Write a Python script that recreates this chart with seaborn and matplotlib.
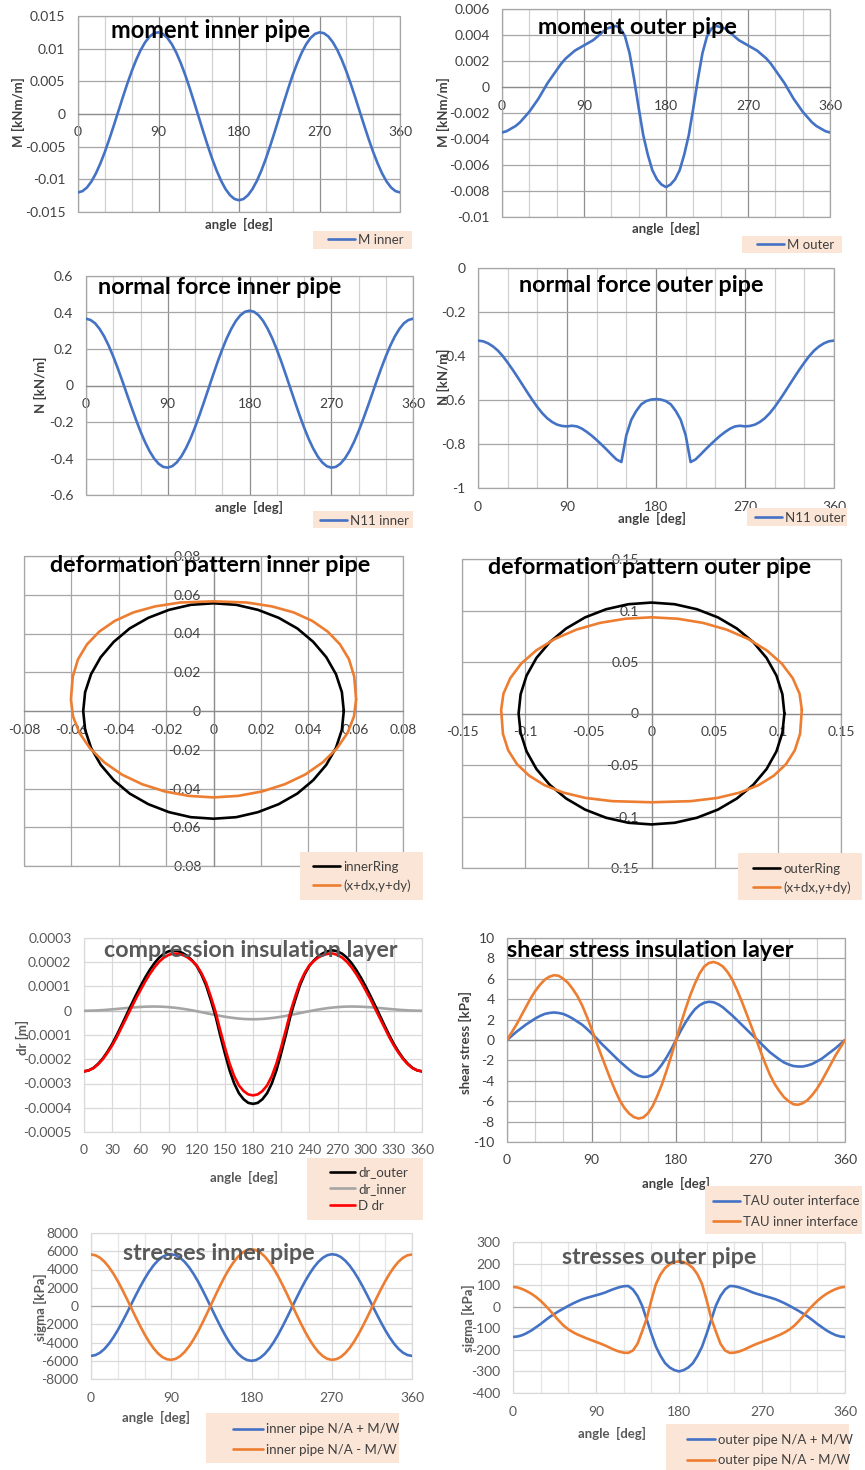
import matplotlib
matplotlib.use("Agg")
import matplotlib.pyplot as plt
import seaborn as sns
from matplotlib.ticker import MultipleLocator, FuncFormatter, NullLocator
from matplotlib.lines import Line2D
from matplotlib.patches import Rectangle

# ------------------------------------------------------------------ data
angle = [0, 5, 10, 15, 20, 25, 30, 35, 40, 45, 50, 55, 60, 65, 70, 75, 80, 85, 90,
         95, 100, 105, 110, 115, 120, 125, 130, 135, 140, 145, 150, 155, 160, 165, 170, 175, 180,
         185, 190, 195, 200, 205, 210, 215, 220, 225, 230, 235, 240, 245, 250, 255, 260, 265, 270,
         275, 280, 285, 290, 295, 300, 305, 310, 315, 320, 325, 330, 335, 340, 345, 350, 355, 360]

m_inner = [-0.0120, -0.01181, -0.01125, -0.01034, -0.00910, -0.00757, -0.00581, -0.00385, -0.00177,
           0.00037, 0.00252, 0.00459, 0.00653, 0.00827, 0.00977, 0.01097, 0.01185, 0.01236, 0.01250,
           0.01226, 0.01164, 0.01066, 0.00936, 0.00776, 0.00593, 0.00390, 0.00174, -0.00047,
           -0.00269, -0.00483, -0.00685, -0.00866, -0.01023, -0.01150, -0.01243, -0.01301, -0.0132,
           -0.01301, -0.01243, -0.01150, -0.01023, -0.00866, -0.00685, -0.00483, -0.00269, -0.00047,
           0.00174, 0.00390, 0.00593, 0.00776, 0.00936, 0.01066, 0.01164, 0.01226, 0.01250,
           0.01236, 0.01185, 0.01097, 0.00977, 0.00827, 0.00653, 0.00459, 0.00252, 0.00037,
           -0.00177, -0.00385, -0.00581, -0.00757, -0.00910, -0.01034, -0.01125, -0.01181, -0.0120]

m_outer = [-0.0035, -0.0034, -0.0032, -0.0030, -0.0027, -0.0023, -0.0019, -0.0014, -0.0009, -0.0003,
           0.0003, 0.0008, 0.0013, 0.0018, 0.0022, 0.0025, 0.0028, 0.0030, 0.0032, 0.0034,
           0.0036, 0.0039, 0.0042, 0.0045, 0.0046, 0.0047, 0.0045, 0.0039, 0.0026, 0.0006,
           -0.0016, -0.0037, -0.0052, -0.0064, -0.0071, -0.0075, -0.0077,
           -0.0075, -0.0071, -0.0064, -0.0052, -0.0037, -0.0016, 0.0006, 0.0026, 0.0039, 0.0045,
           0.0047, 0.0046, 0.0045, 0.0042, 0.0039, 0.0036, 0.0034, 0.0032, 0.0030, 0.0028,
           0.0025, 0.0022, 0.0018, 0.0013, 0.0008, 0.0003, -0.0003, -0.0009, -0.0014, -0.0019,
           -0.0023, -0.0027, -0.0030, -0.0032, -0.0034, -0.0035]

n_inner = [0.366, 0.359, 0.341, 0.310, 0.269, 0.218, 0.159, 0.094, 0.025, -0.047, -0.118, -0.187,
           -0.252, -0.310, -0.360, -0.400, -0.429, -0.446, -0.450, -0.442, -0.421, -0.388, -0.344,
           -0.291, -0.229, -0.161, -0.089, -0.015, 0.059, 0.131, 0.198, 0.259, 0.311, 0.354, 0.385,
           0.404, 0.410,
           0.404, 0.385, 0.354, 0.311, 0.259, 0.198, 0.131, 0.059, -0.015, -0.089, -0.161, -0.229,
           -0.291, -0.344, -0.388, -0.421, -0.442, -0.450, -0.446, -0.429, -0.400, -0.360, -0.310,
           -0.252, -0.187, -0.118, -0.047, 0.025, 0.094, 0.159, 0.218, 0.269, 0.310, 0.341, 0.359,
           0.366]

n_outer = [-0.330, -0.333, -0.342, -0.356, -0.375, -0.400, -0.430, -0.462, -0.496, -0.531,
           -0.566, -0.600, -0.632, -0.660, -0.683, -0.700, -0.712, -0.718, -0.720, -0.717,
           -0.720, -0.730, -0.745, -0.762, -0.782, -0.803, -0.825, -0.848, -0.870, -0.882,
           -0.760, -0.690, -0.650, -0.620, -0.605, -0.598, -0.596,
           -0.598, -0.605, -0.620, -0.650, -0.690, -0.760, -0.882, -0.870, -0.848, -0.825,
           -0.803, -0.782, -0.762, -0.745, -0.730, -0.720, -0.717, -0.720, -0.718, -0.712,
           -0.700, -0.683, -0.660, -0.632, -0.600, -0.566, -0.531, -0.496, -0.462, -0.430,
           -0.400, -0.375, -0.356, -0.342, -0.333, -0.330]

inner_ring_x = [0.0550, 0.0542, 0.0517, 0.0476, 0.0421, 0.0354, 0.0275, 0.0188, 0.0096, 0.0000,
                -0.0096, -0.0188, -0.0275, -0.0354, -0.0421, -0.0476, -0.0517, -0.0542, -0.0550,
                -0.0542, -0.0517, -0.0476, -0.0421, -0.0354, -0.0275, -0.0188, -0.0096, 0.0000,
                0.0096, 0.0188, 0.0275, 0.0354, 0.0421, 0.0476, 0.0517, 0.0542, 0.0550]
inner_ring_y = [0.0000, 0.0097, 0.0190, 0.0278, 0.0357, 0.0426, 0.0481, 0.0522, 0.0548, 0.0556,
                0.0548, 0.0522, 0.0481, 0.0426, 0.0357, 0.0278, 0.0190, 0.0097, 0.0000,
                -0.0097, -0.0190, -0.0278, -0.0357, -0.0426, -0.0481, -0.0522, -0.0548, -0.0556,
                -0.0548, -0.0522, -0.0481, -0.0426, -0.0357, -0.0278, -0.0190, -0.0097, 0.0000]
inner_def_x = [0.0602, 0.0594, 0.0572, 0.0534, 0.0482, 0.0417, 0.0338, 0.0246, 0.0140, 0.0000,
               -0.0140, -0.0246, -0.0338, -0.0417, -0.0482, -0.0534, -0.0572, -0.0594, -0.0602,
               -0.0593, -0.0566, -0.0521, -0.0461, -0.0387, -0.0301, -0.0206, -0.0105, 0.0000,
               0.0105, 0.0206, 0.0301, 0.0387, 0.0461, 0.0521, 0.0566, 0.0593, 0.0602]
inner_def_y = [0.0060, 0.0178, 0.0267, 0.0344, 0.0410, 0.0465, 0.0509, 0.0540, 0.0560, 0.0566,
               0.0560, 0.0540, 0.0509, 0.0465, 0.0410, 0.0344, 0.0267, 0.0178, 0.0060,
               -0.0028, -0.0113, -0.0193, -0.0265, -0.0328, -0.0378, -0.0415, -0.0438, -0.0446,
               -0.0438, -0.0415, -0.0378, -0.0328, -0.0265, -0.0193, -0.0113, -0.0028, 0.0060]

outer_ring_x = [0.1052, 0.1036, 0.0989, 0.0911, 0.0806, 0.0676, 0.0526, 0.0360, 0.0183, 0.0000,
                -0.0183, -0.0360, -0.0526, -0.0676, -0.0806, -0.0911, -0.0989, -0.1036, -0.1052,
                -0.1036, -0.0989, -0.0911, -0.0806, -0.0676, -0.0526, -0.0360, -0.0183, 0.0000,
                0.0183, 0.0360, 0.0526, 0.0676, 0.0806, 0.0911, 0.0989, 0.1036, 0.1052]
outer_ring_y = [0.0000, 0.0187, 0.0368, 0.0539, 0.0692, 0.0825, 0.0933, 0.1012, 0.1061, 0.1077,
                0.1061, 0.1012, 0.0933, 0.0825, 0.0692, 0.0539, 0.0368, 0.0187, 0.0000,
                -0.0187, -0.0368, -0.0539, -0.0692, -0.0825, -0.0933, -0.1012, -0.1061, -0.1077,
                -0.1061, -0.1012, -0.0933, -0.0825, -0.0692, -0.0539, -0.0368, -0.0187, 0.0000]
outer_def_x = [0.1190, 0.1172, 0.1118, 0.1031, 0.0912, 0.0765, 0.0595, 0.0407, 0.0207, 0.0000,
               -0.0207, -0.0407, -0.0595, -0.0765, -0.0912, -0.1031, -0.1118, -0.1172, -0.1190,
               -0.1176, -0.1134, -0.1065, -0.0969, -0.0847, -0.0698, -0.0521, -0.0310, 0.0000,
               0.0310, 0.0521, 0.0698, 0.0847, 0.0969, 0.1065, 0.1134, 0.1176, 0.1190]
outer_def_y = [0.0036, 0.0192, 0.0343, 0.0485, 0.0613, 0.0724, 0.0814, 0.0880, 0.0920, 0.0934,
               0.0920, 0.0880, 0.0814, 0.0724, 0.0613, 0.0485, 0.0343, 0.0192, 0.0036,
               -0.0198, -0.0358, -0.0491, -0.0603, -0.0696, -0.0768, -0.0820, -0.0851, -0.0862,
               -0.0851, -0.0820, -0.0768, -0.0696, -0.0603, -0.0491, -0.0358, -0.0198, 0.0036]

dr_outer = [-250e-6, -246e-6, -236e-6, -219e-6, -197e-6, -169e-6, -137e-6, -100e-6, -60e-6,
            -19e-6, 22e-6, 62e-6, 100e-6, 136e-6, 168e-6, 196e-6, 219e-6, 235e-6, 245e-6,
            249e-6, 246e-6, 238e-6, 226e-6, 208e-6, 185e-6, 150e-6, 105e-6, 45e-6, -20e-6,
            -100e-6, -175e-6, -245e-6, -300e-6, -340e-6, -365e-6, -380e-6, -384e-6,
            -380e-6, -365e-6, -340e-6, -300e-6, -245e-6, -175e-6, -100e-6, -20e-6, 45e-6,
            105e-6, 150e-6, 185e-6, 208e-6, 226e-6, 238e-6, 246e-6, 249e-6, 245e-6, 235e-6,
            219e-6, 196e-6, 168e-6, 136e-6, 100e-6, 62e-6, 22e-6, -19e-6, -60e-6, -100e-6,
            -137e-6, -169e-6, -197e-6, -219e-6, -236e-6, -246e-6, -250e-6]
dr_inner = [0.0, 0.2e-6, 0.7e-6, 1.6e-6, 2.7e-6, 4.2e-6, 5.8e-6, 7.5e-6, 9.3e-6, 11.1e-6,
            12.8e-6, 14.4e-6, 15.6e-6, 16.6e-6, 17.2e-6, 17.4e-6, 17.1e-6, 16.3e-6, 15.0e-6,
            13.2e-6, 11.0e-6, 8.3e-6, 5.2e-6, 1.8e-6, -1.9e-6, -5.7e-6, -9.7e-6, -13.6e-6,
            -17.5e-6, -21.2e-6, -24.5e-6, -27.6e-6, -30.1e-6, -32.2e-6, -33.8e-6, -34.7e-6,
            -35.0e-6,
            -34.7e-6, -33.8e-6, -32.2e-6, -30.1e-6, -27.6e-6, -24.5e-6, -21.2e-6, -17.5e-6,
            -13.6e-6, -9.7e-6, -5.7e-6, -1.9e-6, 1.8e-6, 5.2e-6, 8.3e-6, 11.0e-6, 13.2e-6,
            15.0e-6, 16.3e-6, 17.1e-6, 17.4e-6, 17.2e-6, 16.6e-6, 15.6e-6, 14.4e-6, 12.8e-6,
            11.1e-6, 9.3e-6, 7.5e-6, 5.8e-6, 4.2e-6, 2.7e-6, 1.6e-6, 0.7e-6, 0.2e-6, 0.0]
d_dr = [-250e-6, -246e-6, -237e-6, -221e-6, -200e-6, -173e-6, -143e-6, -108e-6, -69e-6, -30e-6,
        9e-6, 48e-6, 84e-6, 119e-6, 151e-6, 179e-6, 202e-6, 219e-6, 230e-6, 236e-6, 235e-6,
        230e-6, 221e-6, 206e-6, 187e-6, 156e-6, 115e-6, 59e-6, -3e-6, -79e-6, -151e-6,
        -217e-6, -270e-6, -308e-6, -331e-6, -345e-6, -349e-6,
        -345e-6, -331e-6, -308e-6, -270e-6, -217e-6, -151e-6, -79e-6, -3e-6, 59e-6, 115e-6,
        156e-6, 187e-6, 206e-6, 221e-6, 230e-6, 235e-6, 236e-6, 230e-6, 219e-6, 202e-6,
        179e-6, 151e-6, 119e-6, 84e-6, 48e-6, 9e-6, -30e-6, -69e-6, -108e-6, -143e-6,
        -173e-6, -200e-6, -221e-6, -237e-6, -246e-6, -250e-6]

tau_outer = [0, 0.4, 0.8, 1.15, 1.5, 1.8, 2.1, 2.35, 2.55, 2.65, 2.7, 2.65, 2.55, 2.35, 2.1, 1.8,
             1.5, 1.1, 0.65, 0.2, -0.3, -0.75, -1.2, -1.65, -2.1, -2.5, -2.9, -3.25, -3.5, -3.62,
             -3.6, -3.4, -3.0, -2.4, -1.7, -0.9, 0,
             0.9, 1.7, 2.4, 3.0, 3.4, 3.65, 3.75, 3.7, 3.5, 3.2, 2.8, 2.4, 1.95, 1.5, 1.05, 0.6,
             0.15, -0.3, -0.75, -1.2, -1.55, -1.9, -2.2, -2.4, -2.55, -2.6, -2.6, -2.5, -2.35,
             -2.1, -1.85, -1.5, -1.15, -0.8, -0.4, 0]
tau_inner = [0, 0.75, 1.5, 2.35, 3.2, 4.05, 4.8, 5.4, 5.9, 6.2, 6.35, 6.3, 6.0, 5.6, 5.0, 4.3,
             3.4, 2.3, 1.1, -0.15, -1.4, -2.6, -3.8, -4.9, -5.9, -6.65, -7.2, -7.55, -7.7, -7.6,
             -7.2, -6.5, -5.5, -4.35, -3.0, -1.55, 0,
             1.55, 3.0, 4.35, 5.5, 6.5, 7.2, 7.55, 7.65, 7.5, 7.2, 6.65, 5.9, 4.9, 3.8, 2.6, 1.4,
             0.15, -1.1, -2.3, -3.4, -4.3, -5.0, -5.6, -6.0, -6.3, -6.35, -6.2, -5.9, -5.4, -4.8,
             -4.05, -3.2, -2.35, -1.5, -0.75, 0]

sig_in_plus = [-5465, -5378, -5124, -4710, -4146, -3450, -2650, -1759, -814, 159, 1137, 2078,
               2960, 3752, 4434, 4979, 5380, 5611, 5675, 5566, 5284, 4839, 4248, 3520, 2689, 1766,
               784, -222, -1230, -2204, -3122, -3945, -4658, -5236, -5659, -5923, -6009,
               -5923, -5659, -5236, -4658, -3945, -3122, -2204, -1230, -222, 784, 1766, 2689,
               3520, 4248, 4839, 5284, 5566, 5675, 5611, 5380, 4979, 4434, 3752, 2960, 2078, 1137,
               159, -814, -1759, -2650, -3450, -4146, -4710, -5124, -5378, -5465]
sig_in_minus = [5647, 5558, 5294, 4865, 4280, 3559, 2730, 1806, 826, -183, -1197, -2172, -3086,
                -3906, -4614, -5179, -5594, -5834, -5901, -5787, -5494, -5033, -4420, -3666,
                -2803, -1846, -828, 214, 1260, 2269, 3222, 4074, 4814, 5413, 5851, 6125, 6215,
                6125, 5851, 5413, 4814, 4074, 3222, 2269, 1260, 214, -828, -1846, -2803, -3666,
                -4420, -5033, -5494, -5787, -5901, -5834, -5594, -5179, -4614, -3906, -3086,
                -2172, -1197, -183, 826, 1806, 2730, 3559, 4280, 4865, 5294, 5558, 5647]

sig_out_plus = [-140, -138, -132, -122, -110, -95, -80, -63, -47, -33, -20, -8, 4, 15, 25, 34, 41,
                47, 53, 59, 66, 75, 83, 90, 95, 96, 80, 50, 5, -60, -125, -185, -228, -262, -282,
                -294, -300,
                -294, -282, -262, -228, -185, -125, -60, 5, 50, 80, 96, 95, 90, 83, 75, 66, 59, 53,
                47, 41, 34, 25, 15, 4, -8, -20, -33, -47, -63, -80, -95, -110, -122, -132, -138, -140]
sig_out_minus = [92, 89, 82, 72, 60, 45, 27, 6, -17, -42, -66, -88, -105, -118, -129, -138, -147,
                 -155, -163, -171, -180, -190, -200, -208, -213, -214, -203, -172, -115, -55, 30,
                 105, 150, 180, 197, 207, 210,
                 207, 197, 180, 150, 105, 30, -55, -115, -172, -203, -214, -213, -208, -200, -190,
                 -180, -171, -163, -155, -147, -138, -129, -118, -105, -88, -66, -42, -17, 6, 27,
                 45, 60, 72, 82, 89, 92]

# ------------------------------------------------------------------ style
sns.set_theme(style="white")
plt.rcParams['font.family'] = ['Lato', 'DejaVu Sans']

BLUE = '#4472C4'
ORANGE = '#ED7D31'
GRAY_LINE = '#A5A5A5'
RED = '#FF0000'
PEACH = '#FBE5D6'
DARK_T = '#404040'
GRAY_T = '#595959'
LW = 1.9

W, H = 865, 1470
fig = plt.figure(figsize=(W / 100, H / 100), dpi=100)
fig.patch.set_facecolor('white')


def fx(x):
    return x / W


def fy(y):
    return 1 - y / H


def gfmt(v, p):
    if abs(v) < 1e-12:
        return '0'
    return '%g' % round(v, 10)


def make_ax(rect, xlim, ylim, xmaj, ymaj, xminor=None, spine0=False, center=False,
            light=False, tcolor=DARK_T):
    x0, y0, x1, y1 = rect
    ax = fig.add_axes([fx(x0), fy(y1), (x1 - x0) / W, (y1 - y0) / H])
    ax.set_xlim(*xlim)
    ax.set_ylim(*ylim)
    ax.xaxis.set_major_locator(MultipleLocator(xmaj))
    ax.yaxis.set_major_locator(MultipleLocator(ymaj))
    if xminor:
        ax.xaxis.set_minor_locator(MultipleLocator(xminor))
    else:
        ax.xaxis.set_minor_locator(NullLocator())
    ax.yaxis.set_minor_locator(NullLocator())
    ax.xaxis.set_major_formatter(FuncFormatter(gfmt))
    ax.yaxis.set_major_formatter(FuncFormatter(gfmt))
    ax.tick_params(which='both', length=0, labelsize=10, colors=tcolor, pad=9)
    ax.set_axisbelow(True)
    if light:
        hmaj, vmaj, vmin, border = '#D9D9D9', '#D9D9D9', '#E6E6E6', '#D9D9D9'
    elif center:
        hmaj, vmaj, vmin, border = '#A6A6A6', '#A6A6A6', '#A6A6A6', '#A6A6A6'
    else:
        hmaj, vmaj, vmin, border = '#A6A6A6', '#8F8F8F', '#D0D0D0', '#A6A6A6'
    ax.grid(True, which='major', axis='y', color=hmaj, lw=0.9)
    ax.grid(True, which='major', axis='x', color=vmaj, lw=0.9)
    if xminor:
        ax.grid(True, which='minor', axis='x', color=vmin, lw=0.9)
    for s in ax.spines.values():
        s.set_visible(False)
    ax.add_patch(Rectangle((0, 0), 1, 1, transform=ax.transAxes, fill=False,
                           ec=border, lw=0.9, clip_on=False, zorder=1))
    if spine0 or center:
        sp = ax.spines['bottom']
        sp.set_visible(True)
        sp.set_position(('data', 0))
        sp.set_color('#8C8C8C')
        sp.set_linewidth(0.9)
    if center:
        sp = ax.spines['left']
        sp.set_visible(True)
        sp.set_position(('data', 0))
        sp.set_color('#8C8C8C')
        sp.set_linewidth(0.9)
    return ax


def title(x0, x1, yc, s, color='black'):
    t = fig.text(fx(x0), fy(yc), s, ha='left', va='center', fontsize=14,
                 fontweight='bold', color=color, zorder=20)
    r = fig.canvas.get_renderer()
    w = t.get_window_extent(r).width
    t.set_fontsize(14 * (x1 - x0) / w)
    return t


def xlab(xc, yc, s, color=DARK_T):
    fig.text(fx(xc), fy(yc), s, ha='center', va='center', fontsize=9.5,
             fontweight='bold', color=color)


def ylab(xc, yc, s, color=DARK_T):
    fig.text(fx(xc), fy(yc), s, ha='center', va='center', fontsize=9.5,
             fontweight='bold', color=color, rotation=90)


def legend_box(box, hx, yc, entries, spacing=24, hl=27, fs=9.5):
    x0, y0, x1, y1 = box
    fig.add_artist(Rectangle((fx(x0), fy(y1)), (x1 - x0) / W, (y1 - y0) / H,
                             transform=fig.transFigure, fc=PEACH, ec='none', zorder=8))
    handles = [Line2D([0], [0], color=c, lw=LW) for c, _ in entries]
    labels = [l for _, l in entries]
    fpx = fs * 100 / 72
    ls = max(0.0, (spacing - 1.25 * fpx) / fpx)
    leg = fig.legend(handles, labels, loc='center left', bbox_to_anchor=(fx(hx), fy(yc)),
                     frameon=False, fontsize=fs, handlelength=hl / fpx, handletextpad=0.25,
                     borderaxespad=0, borderpad=0, labelspacing=ls)
    for t in leg.get_texts():
        t.set_color(DARK_T)
    leg.set_zorder(9)


def line(ax, x, y, color, lw=LW, z=3):
    sns.lineplot(x=x, y=y, ax=ax, color=color, lw=lw, sort=False, estimator=None,
                 legend=False, zorder=z)
    ax.set_xlabel('')
    ax.set_ylabel('')


# ---------------- P1 moment inner
ax1 = make_ax((78, 16, 400, 212), (0, 360), (-0.015, 0.015), 90, 0.005, 30, spine0=True)
line(ax1, angle, m_inner, BLUE)
title(111, 311, 30, 'moment inner pipe')
xlab(239, 224, 'angle  [deg]')
ylab(18, 112, 'M [kNm/m]')
legend_box((313, 231, 412, 249), 328, 240, [(BLUE, 'M inner')])

# ---------------- P2 moment outer
ax2 = make_ax((502, 9, 830, 217), (0, 360), (-0.01, 0.006), 90, 0.002, 30, spine0=True)
line(ax2, angle, m_outer, BLUE)
title(538, 739, 27, 'moment outer pipe')
xlab(666, 228, 'angle  [deg]')
ylab(443, 112, 'M [kNm/m]')
legend_box((742, 236, 842, 253), 757, 245, [(BLUE, 'M outer')])

# ---------------- P3 normal inner
ax3 = make_ax((86, 276, 413, 495), (0, 360), (-0.6, 0.6), 90, 0.2, 30, spine0=True)
line(ax3, angle, n_inner, BLUE)
title(98, 343, 288, 'normal force inner pipe')
xlab(249, 507, 'angle  [deg]')
ylab(40, 385, 'N [kN/m]')
legend_box((313, 511, 413, 528), 320, 521, [(BLUE, 'N11 inner')])

# ---------------- P4 normal outer
ax4 = make_ax((478, 268, 834, 488), (0, 360), (-1, 0), 90, 0.2, 30)
line(ax4, angle, n_outer, BLUE)
title(519, 766, 285, 'normal force outer pipe')
xlab(652, 518, 'angle  [deg]')
ylab(443, 377, 'N [kN/m]')
legend_box((747, 508, 847, 526), 755, 518, [(BLUE, 'N11 outer')])

# ---------------- P5 deformation inner
ax5 = make_ax((24, 556, 403, 866), (-0.08, 0.08), (-0.08, 0.08), 0.02, 0.02, center=True)
line(ax5, inner_ring_x, inner_ring_y, 'black')
line(ax5, inner_def_x, inner_def_y, ORANGE, z=4)
title(50, 374, 566, 'deformation pattern inner pipe')
legend_box((300, 852, 423, 900), 313, 876.5, [('black', 'innerRing'), (ORANGE, '(x+dx,y+dy)')],
           spacing=23)

# ---------------- P6 deformation outer
ax6 = make_ax((462, 559, 841, 868), (-0.15, 0.15), (-0.15, 0.15), 0.05, 0.05, center=True)
line(ax6, outer_ring_x, outer_ring_y, 'black')
line(ax6, outer_def_x, outer_def_y, ORANGE, z=4)
title(488, 815, 568, 'deformation pattern outer pipe')
legend_box((738, 853, 862, 900), 753, 878.5, [('black', 'outerRing'), (ORANGE, '(x+dx,y+dy)')],
           spacing=23)

# ---------------- P7 compression
ax7 = make_ax((84, 938, 422, 1132), (0, 360), (-0.0005, 0.0003), 30, 0.0001, light=True,
              tcolor=GRAY_T)
ax7.axhline(0, color='#BFBFBF', lw=0.9, zorder=1)
line(ax7, angle, dr_inner, GRAY_LINE)
line(ax7, angle, dr_outer, 'black', z=4)
line(ax7, angle, d_dr, RED, z=5)
title(104, 400, 950, 'compression insulation layer', GRAY_T)
xlab(244, 1177, 'angle  [deg]', GRAY_T)
ylab(22, 1037, 'dr [m]', GRAY_T)
legend_box((307, 1158, 423, 1220), 330, 1189, [('black', 'dr_outer'), (GRAY_LINE, 'dr_inner'),
                                               (RED, 'D dr')], spacing=21, hl=25)

# ---------------- P8 shear
ax8 = make_ax((507, 938, 845, 1142), (0, 360), (-10, 10), 90, 2, 30)
ax8.axhline(0, color='#8C8C8C', lw=0.9, zorder=1)
line(ax8, angle, tau_outer, BLUE)
line(ax8, angle, tau_inner, ORANGE, z=4)
title(507, 796, 950, 'shear stress insulation layer')
xlab(676, 1183, 'angle  [deg]')
ylab(465, 1042, 'shear stress [kPa]')
legend_box((705, 1186, 862, 1234), 713, 1211.5, [(BLUE, 'TAU outer interface'),
                                                 (ORANGE, 'TAU inner interface')], spacing=25)

# ---------------- P9 stresses inner
ax9 = make_ax((91, 1233, 412, 1379), (0, 360), (-8000, 8000), 90, 2000, 30, light=True,
              tcolor=GRAY_T)
ax9.axhline(0, color='#A6A6A6', lw=0.9, zorder=1)
line(ax9, angle, sig_in_plus, BLUE)
line(ax9, angle, sig_in_minus, ORANGE, z=4)
title(123, 316, 1254, 'stresses inner pipe', GRAY_T)
xlab(156, 1417, 'angle  [deg]', GRAY_T)
ylab(40, 1307, 'sigma [kPa]', GRAY_T)
legend_box((206, 1413, 399, 1463), 233, 1439.5, [(BLUE, 'inner pipe N/A + M/W'),
                                                 (ORANGE, 'inner pipe N/A - M/W')], spacing=25,
           hl=30)

# ---------------- P10 stresses outer
ax10 = make_ax((513, 1242, 845, 1393), (0, 360), (-400, 300), 90, 100, 30, light=True,
               tcolor=GRAY_T)
ax10.axhline(0, color='#A6A6A6', lw=0.9, zorder=1)
line(ax10, angle, sig_out_plus, BLUE)
line(ax10, angle, sig_out_minus, ORANGE, z=4)
title(562, 757, 1258, 'stresses outer pipe', GRAY_T)
xlab(612, 1433, 'angle  [deg]', GRAY_T)
ylab(468, 1318, 'sigma [kPa]', GRAY_T)
legend_box((666, 1424, 849, 1470), 687, 1450, [(BLUE, 'outer pipe N/A + M/W'),
                                               (ORANGE, 'outer pipe N/A - M/W')], spacing=25,
           hl=28)

fig.savefig('out.png', dpi=100, facecolor='white')
